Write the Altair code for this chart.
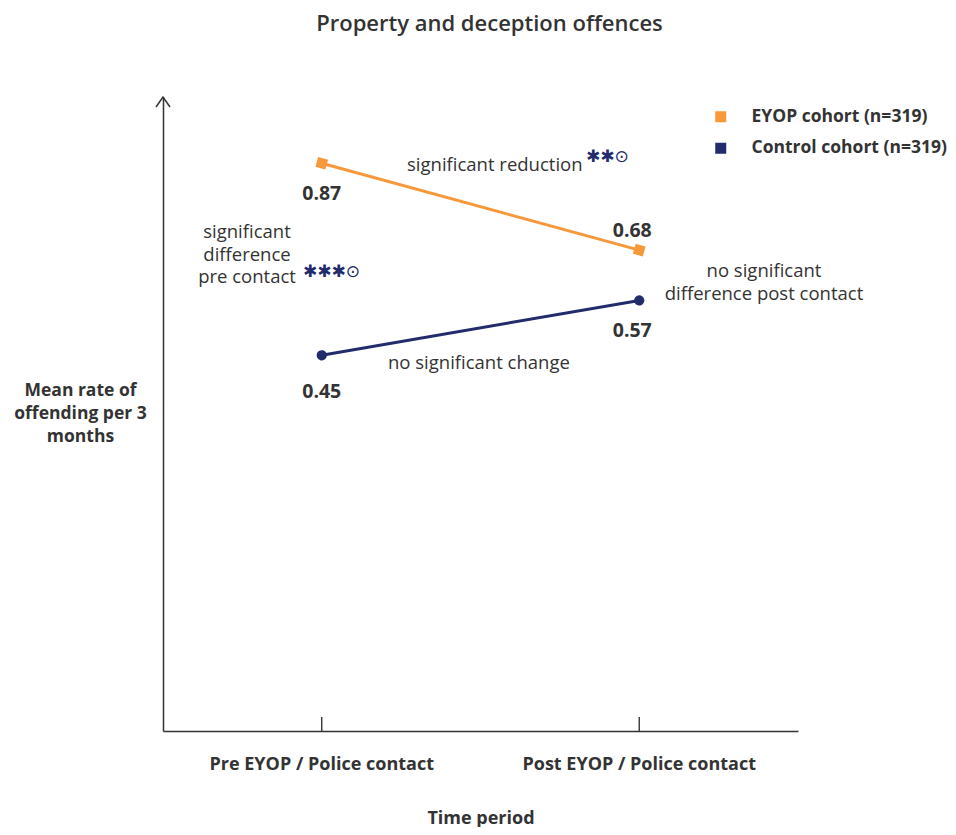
import altair as alt
import pandas as pd

# ---- data -------------------------------------------------------------
title_text = "Property and deception offences"
periods = ["Pre EYOP / Police contact", "Post EYOP / Police contact"]
cohorts = ["EYOP cohort (n=319)", "Control cohort (n=319)"]
eyop_rate = [0.87, 0.68]
control_rate = [0.45, 0.57]
colors = ["#F7993B", "#222B6C"]

y_title = ["Mean rate of", "offending per 3", "months"]
x_title = "Time period"
ann_reduction = "significant reduction"
ann_pre = ["significant", "difference", "pre contact"]
ann_post = ["no significant", "difference post contact"]
ann_change = "no significant change"
sig_reduction = "\u2731\u2731\u2299"
sig_pre = "\u2731\u2731\u2731\u2299"

df = pd.DataFrame({
    "period": periods * 2,
    "cohort": [cohorts[0]] * 2 + [cohorts[1]] * 2,
    "rate": eyop_rate + control_rate,
})
df["label"] = df["rate"].map(lambda v: f"{v:.2f}")

# ---- styling ------------------------------------------------------------
W, H = 635, 634
TEXT = "#333333"
FONT = "Open Sans"
SYM = "DejaVu Sans"

x_enc = alt.X(
    "period:N", sort=periods,
    axis=alt.Axis(
        title=x_title, labelAngle=0, ticks=False, grid=False,
        labelPadding=24, titlePadding=36, labelLimit=400,
        labelFontSize=18, labelFontWeight="bold", labelColor=TEXT, labelFont=FONT,
        titleFontSize=18, titleFontWeight="bold", titleColor=TEXT, titleFont=FONT,
        domainColor=TEXT, domainWidth=1.5,
    ),
)
y_enc = alt.Y(
    "rate:Q",
    scale=alt.Scale(domain=[-0.372, 1.015], nice=False, zero=False),
    axis=alt.Axis(
        title=y_title, titleAngle=0, titleAlign="center", titleBaseline="middle",
        titleX=-83, titleY=293, titleLineHeight=23,
        titleFontSize=17.5, titleFontWeight="bold", titleColor=TEXT, titleFont=FONT,
        labels=False, ticks=False, grid=False, domainColor=TEXT, domainWidth=1.5,
    ),
)
legend = alt.Legend(
    title=None, orient="none", legendX=549, legendY=11,
    symbolType="square", symbolSize=121, symbolStrokeWidth=0,
    labelFont=FONT, labelFontSize=17.5, labelFontWeight="bold",
    labelColor=TEXT, labelOffset=22, rowPadding=12.5, padding=0,
    labelLimit=400,
)
color_scale = alt.Scale(domain=cohorts, range=colors)

base = alt.Chart(df)

ticks = base.mark_rule(color=TEXT, strokeWidth=1).encode(
    x=alt.X("period:N", sort=periods), y=alt.value(H - 14), y2=alt.value(H)
)

lines = base.mark_line(strokeWidth=3).encode(
    x=x_enc, y=y_enc,
    color=alt.Color("cohort:N", scale=color_scale, legend=legend),
)

points = base.mark_point(filled=True, opacity=1, size=105, angle=16).encode(
    x=alt.X("period:N", sort=periods),
    y=alt.Y("rate:Q"),
    color=alt.Color("cohort:N", scale=color_scale, legend=legend),
    shape=alt.condition(alt.datum.cohort == cohorts[0], alt.value("square"), alt.value("circle")),
)

lab_style = dict(font=FONT, fontSize=19.5, fontWeight="bold", color=TEXT)


def value_label(period, cohort, dy, dx=0):
    return base.transform_filter(
        (alt.datum.period == period) & (alt.datum.cohort == cohort)
    ).mark_text(dy=dy, dx=dx, **lab_style).encode(
        x=alt.X("period:N", sort=periods), y="rate:Q", text="label:N"
    )


labels = [
    value_label(periods[0], cohorts[0], 31),
    value_label(periods[0], cohorts[1], 37),
    value_label(periods[1], cohorts[0], -19, -7),
    value_label(periods[1], cohorts[1], 31, -7),
]

one = alt.Chart(pd.DataFrame({"k": [0]}))
ann_style = dict(font=FONT, fontSize=18.5, color=TEXT)

arrow = one.mark_point(
    shape="M-0.7,1L0,0L0.7,1", filled=False, size=400,
    stroke=TEXT, strokeWidth=1.5, opacity=1,
).encode(x=alt.value(0), y=alt.value(0))

a1 = one.mark_text(text=ann_reduction, align="left", baseline="middle", **ann_style).encode(
    x=alt.value(244), y=alt.value(68))
a1s = one.mark_text(text=sig_reduction, align="left", baseline="middle", font=SYM,
                    fontSize=17, color=colors[1]).encode(x=alt.value(423), y=alt.value(60))
a2 = one.mark_text(text=ann_pre, align="center", baseline="middle", lineHeight=22.5,
                   **ann_style).encode(x=alt.value(84), y=alt.value(135))
a2s = one.mark_text(text=sig_pre, align="left", baseline="middle", font=SYM,
                    fontSize=17, color=colors[1]).encode(x=alt.value(140), y=alt.value(175))
a3 = one.mark_text(text=ann_post, align="center", baseline="middle", lineHeight=23,
                   **ann_style).encode(x=alt.value(601), y=alt.value(174))
a4 = one.mark_text(text=ann_change, align="left", baseline="middle", **ann_style).encode(
    x=alt.value(225), y=alt.value(266))

chart = alt.layer(
    lines, ticks, points, *labels,
    arrow, a1, a1s, a2, a2s, a3, a4,
).properties(
    width=W, height=H,
    title=alt.TitleParams(
        title_text, fontSize=22, fontWeight=600, font=FONT, color=TEXT,
        anchor="middle", dx=9, offset=58,
    ),
    autosize="none",
    padding={"left": 155, "top": 89, "right": 150, "bottom": 96},
).configure(font=FONT).configure_view(stroke=None)

chart.save("out.html", embed_options={"renderer": "svg", "actions": False})
